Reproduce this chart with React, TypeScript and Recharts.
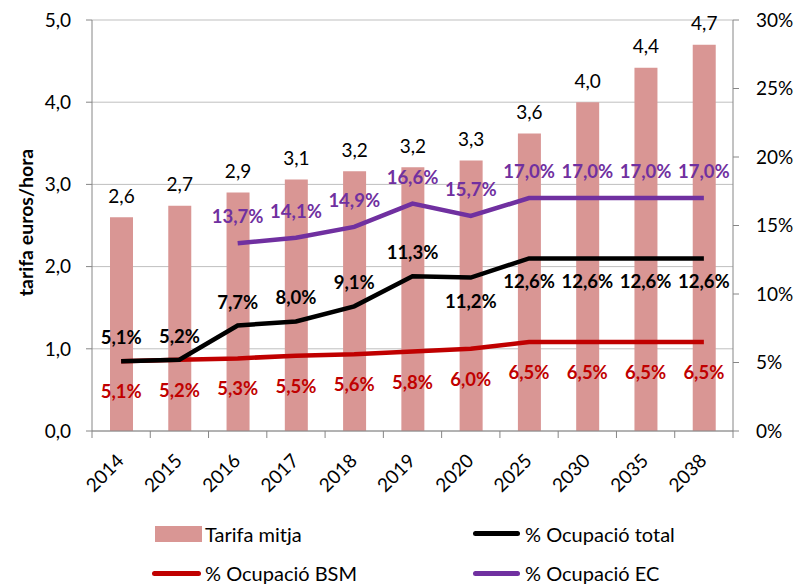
import React from 'react';
import {
  ComposedChart, Bar, Line, XAxis, YAxis, CartesianGrid, LabelList,
} from 'recharts';

const years = ['2014', '2015', '2016', '2017', '2018', '2019', '2020', '2025', '2030', '2035', '2038'];
const tarifaMitja = [2.6, 2.74, 2.9, 3.06, 3.16, 3.21, 3.29, 3.62, 4.0, 4.42, 4.7];
const ocupacioTotal = [5.1, 5.2, 7.7, 8.0, 9.1, 11.3, 11.2, 12.6, 12.6, 12.6, 12.6];
const ocupacioBSM = [5.1, 5.2, 5.3, 5.5, 5.6, 5.8, 6.0, 6.5, 6.5, 6.5, 6.5];
const ocupacioEC = [null, null, 13.7, 14.1, 14.9, 16.6, 15.7, 17.0, 17.0, 17.0, 17.0];
const leftTicks = [0, 1, 2, 3, 4, 5];
const rightTicks = [0, 5, 10, 15, 20, 25, 30];

const data = years.map((y, i) => ({
  year: y,
  tarifa: tarifaMitja[i],
  total: ocupacioTotal[i],
  bsm: ocupacioBSM[i],
  ec: ocupacioEC[i],
}));

const FONT = "Lato, 'Open Sans', sans-serif";
const AXIS = '#868686';
const GRID = '#bfbfbf';
const C_BAR = '#d99694';
const C_TOTAL = '#000000';
const C_BSM = '#c00000';
const C_EC = '#7030a0';

const fmtNum = (v: number) => v.toFixed(1).replace('.', ',');
const fmtPct = (v: number) => v.toFixed(1).replace('.', ',') + '%';

const XTick = (props: any) => {
  const { x, y, payload, index } = props;
  const half = payload && typeof payload.offset === 'number' && payload.offset > 0 ? payload.offset : 29.14;
  const isLast = payload.value === years[years.length - 1] || index === years.length - 1;
  const ax = x + 4;
  const ay = y + 31;
  return (
    <g>
      <line x1={x - half} x2={x - half} y1={y} y2={y + 7} stroke={AXIS} strokeWidth={1} />
      {isLast && <line x1={x + half} x2={x + half} y1={y} y2={y + 7} stroke={AXIS} strokeWidth={1} />}
      <text
        x={ax}
        y={ay}
        textAnchor="end"
        fontFamily={FONT}
        fontSize={19}
        fill="#000"
        transform={`rotate(-45, ${ax}, ${ay})`}
      >
        {payload.value}
      </text>
    </g>
  );
};

const barLabel = (props: any) => {
  const { x, y, width, value } = props;
  if (value == null) return null;
  return (
    <text x={x + width / 2} y={y - 22} textAnchor="middle" dominantBaseline="central"
      fontFamily={FONT} fontSize={19} fill="#000">
      {fmtNum(Number(value))}
    </text>
  );
};

const makeLineLabel = (color: string, dyFn: (i: number) => number) => (props: any) => {
  const { x, y, value, index } = props;
  if (value == null || x == null || y == null) return null;
  return (
    <text x={x} y={y + dyFn(index)} textAnchor="middle" dominantBaseline="central"
      fontFamily={FONT} fontSize={18.5} fontWeight={700} fill={color}>
      {fmtPct(Number(value))}
    </text>
  );
};

const totalLabel = makeLineLabel(C_TOTAL, (i) => (i <= 5 ? -24 : 23));
const bsmLabel = makeLineLabel(C_BSM, () => 30);
const ecLabel = makeLineLabel(C_EC, () => -27);

const YLabel = (props: any) => {
  const vb = props.viewBox || { x: 0, y: 20, width: 92, height: 411 };
  const cx = vb.x + 25;
  const cy = vb.y + vb.height / 2 - 3;
  return (
    <text x={cx} y={cy} transform={`rotate(-90, ${cx}, ${cy})`} textAnchor="middle"
      dominantBaseline="central" fontFamily={FONT} fontSize={19.5} fontWeight={700} fill="#000">
      tarifa euros/hora
    </text>
  );
};

const legendText: React.CSSProperties = {
  position: 'absolute',
  fontFamily: FONT,
  fontSize: 20,
  color: '#000',
  lineHeight: '20px',
  whiteSpace: 'nowrap',
};

export default function App() {
  return (
    <div style={{ position: 'absolute', left: 0, top: 0, width: 800, height: 584, background: '#fff' }}>
      <ComposedChart width={800} height={584} data={data}
        margin={{ top: 20, right: 0, bottom: 93, left: 0 }}>
        <CartesianGrid yAxisId="left" vertical={false} horizontal stroke={GRID} strokeWidth={1} />
        <XAxis dataKey="year" height={60} interval={0} tickLine={false} tickSize={0} tickMargin={0}
          axisLine={{ stroke: AXIS, strokeWidth: 1 }} tick={<XTick />} />
        <YAxis yAxisId="left" orientation="left" width={92} domain={[0, 5]} ticks={leftTicks}
          allowDataOverflow tickFormatter={fmtNum} tickSize={6} tickMargin={15}
          axisLine={{ stroke: AXIS }} tickLine={{ stroke: AXIS }}
          tick={{ fontFamily: FONT, fontSize: 19, fill: '#000' }}
          label={<YLabel />} />
        <YAxis yAxisId="right" orientation="right" width={67} domain={[0, 30]} ticks={rightTicks}
          allowDataOverflow tickFormatter={(v: number) => `${v}%`} tickSize={6} tickMargin={17}
          axisLine={{ stroke: AXIS }} tickLine={{ stroke: AXIS }}
          tick={{ fontFamily: FONT, fontSize: 19, fill: '#000', textAnchor: 'start' }} />
        <Bar yAxisId="left" dataKey="tarifa" fill={C_BAR} barSize={23} isAnimationActive={false}>
          <LabelList dataKey="tarifa" content={barLabel} />
        </Bar>
        <Line yAxisId="right" type="linear" dataKey="bsm" stroke={C_BSM} strokeWidth={4.5}
          dot={false} activeDot={false} isAnimationActive={false}>
          <LabelList dataKey="bsm" content={bsmLabel} />
        </Line>
        <Line yAxisId="right" type="linear" dataKey="total" stroke={C_TOTAL} strokeWidth={4.5}
          dot={false} activeDot={false} isAnimationActive={false}>
          <LabelList dataKey="total" content={totalLabel} />
        </Line>
        <Line yAxisId="right" type="linear" dataKey="ec" stroke={C_EC} strokeWidth={4.5}
          dot={false} activeDot={false} isAnimationActive={false}>
          <LabelList dataKey="ec" content={ecLabel} />
        </Line>
      </ComposedChart>

      <div style={{ position: 'absolute', left: 155, top: 526, width: 47, height: 16, background: C_BAR }} />
      <div style={{ ...legendText, left: 205, top: 524 }}>Tarifa mitja</div>

      <div style={{ position: 'absolute', left: 473, top: 531, width: 47, height: 5, borderRadius: 3, background: C_TOTAL }} />
      <div style={{ ...legendText, left: 525, top: 524 }}>% Ocupació total</div>

      <div style={{ position: 'absolute', left: 152, top: 571, width: 49, height: 5, borderRadius: 3, background: C_BSM }} />
      <div style={{ ...legendText, left: 205, top: 563 }}>% Ocupació BSM</div>

      <div style={{ position: 'absolute', left: 473, top: 571, width: 47, height: 5, borderRadius: 3, background: C_EC }} />
      <div style={{ ...legendText, left: 525, top: 563 }}>% Ocupació EC</div>
    </div>
  );
}
